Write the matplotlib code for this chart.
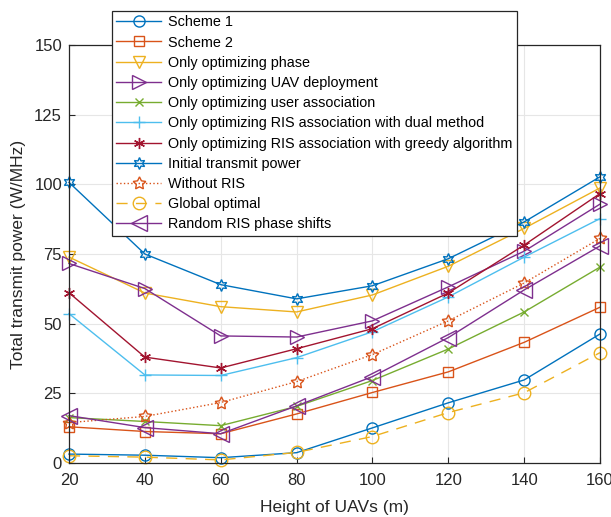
import matplotlib
matplotlib.use("Agg")
import matplotlib.pyplot as plt

plt.rcParams['font.family'] = ['Liberation Sans', 'DejaVu Sans']

heights = [20, 40, 60, 80, 100, 120, 140, 160]
scheme1 = [3.2, 2.8, 1.9, 3.7, 12.6, 21.6, 29.8, 46.3]
scheme2 = [13.0, 11.3, 10.5, 17.6, 25.3, 32.7, 43.3, 55.9]
only_phase = [73.9, 61.0, 56.1, 54.2, 60.3, 70.6, 84.2, 98.7]
only_uav = [71.6, 62.6, 45.6, 45.2, 51.0, 63.2, 76.0, 92.9]
only_user = [16.3, 14.9, 13.4, 20.3, 29.6, 40.9, 54.2, 70.3]
only_ris_dual = [53.6, 31.6, 31.4, 37.8, 47.1, 59.6, 73.9, 87.7]
only_ris_greedy = [61.1, 38.0, 34.1, 41.0, 48.2, 61.0, 78.2, 96.7]
initial_power = [100.7, 75.0, 64.0, 58.9, 63.6, 73.3, 86.5, 102.7]
without_ris = [14.5, 16.7, 21.7, 29.2, 38.9, 51.0, 64.6, 80.6]
global_opt = [2.6, 2.1, 1.1, 3.8, 9.5, 18.1, 25.2, 39.6]
random_phase = [17.0, 12.7, 10.5, 20.5, 31.0, 45.0, 62.1, 77.9]

labels = ["Scheme 1", "Scheme 2", "Only optimizing phase",
          "Only optimizing UAV deployment", "Only optimizing user association",
          "Only optimizing RIS association with dual method",
          "Only optimizing RIS association with greedy algorithm",
          "Initial transmit power", "Without RIS", "Global optimal",
          "Random RIS phase shifts"]
xticks = [20, 40, 60, 80, 100, 120, 140, 160]
yticks = [0, 25, 50, 75, 100, 125, 150]

C1, C2, C3, C4, C5, C6, C7 = '#0072BD', '#D95319', '#EDB120', '#7E2F8E', '#77AC30', '#4DBEEE', '#A2142F'

fig = plt.figure(figsize=(6.11, 5.17), dpi=100)
ax = fig.add_axes([69 / 611, 1 - 463 / 517, 531 / 611, 418 / 517])

series = [
    (scheme1, dict(color=C1, marker='o', ms=8, ls='-')),
    (scheme2, dict(color=C2, marker='s', ms=7, ls='-')),
    (only_phase, dict(color=C3, marker='v', ms=9, ls='-')),
    (only_uav, dict(color=C4, marker='>', ms=10, ls='-')),
    (only_user, dict(color=C5, marker='x', ms=6, ls='-')),
    (only_ris_dual, dict(color=C6, marker='+', ms=8, ls='-')),
    (only_ris_greedy, dict(color=C7, marker=(6, 2, 0), ms=8, ls='-')),
    (initial_power, dict(color=C1, marker=(6, 1, 0), ms=8.5, ls='-')),
    (without_ris, dict(color=C2, marker=(5, 1, 0), ms=9.5, ls=':')),
    (global_opt, dict(color=C3, marker='o', ms=9, ls=(0, (8, 6)))),
    (random_phase, dict(color=C4, marker='<', ms=11, ls='-')),
]
for (vals, st), lab in zip(series, labels):
    ax.plot(heights, vals, label=lab, lw=1.0, mfc='none', mew=1.0, clip_on=False, **st)

ax.set_xlim(20, 160)
ax.set_ylim(0, 150)
ax.set_xticks(xticks)
ax.set_yticks(yticks)
ax.tick_params(direction='in', labelsize=12, length=4, colors='#262626', top=False, right=False)
ax.tick_params(axis='x', pad=7)
ax.tick_params(axis='y', pad=5)
ax.grid(True, color='#e6e6e6', lw=0.8)
ax.set_axisbelow(True)
for s in ax.spines.values():
    s.set_color('#262626')
    s.set_linewidth(0.9)
ax.set_xlabel('Height of UAVs (m)', fontsize=12.5, color='#262626', labelpad=9)
ax.set_ylabel('Total transmit power (W/MHz)', fontsize=12.5, color='#262626', labelpad=6)

leg = ax.legend(loc='upper left', bbox_to_anchor=(112 / 611, 1 - 11 / 517),
                bbox_transform=fig.transFigure, fontsize=10.4, frameon=True,
                fancybox=False, edgecolor='#262626', framealpha=1,
                borderpad=0.3, labelspacing=0.43, handlelength=3.1,
                handletextpad=0.5, borderaxespad=0)
leg.get_frame().set_linewidth(0.9)

fig.savefig('out.png', dpi=100)
